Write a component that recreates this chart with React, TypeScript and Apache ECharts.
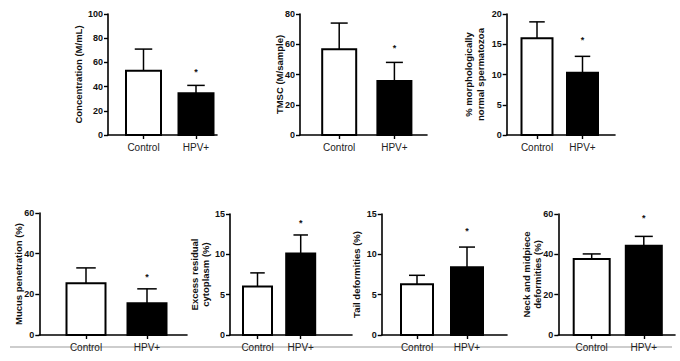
import React, { useEffect, useRef } from "react";
import * as echarts from "echarts";

// ---------- DATA ----------
const categories = ["Control", "HPV+"];

const concentrationMean = [53, 34.5];
const concentrationUpper = [71, 41];
const concentrationStar = 54;

const tmscMean = [56.7, 35.7];
const tmscUpper = [74, 48];
const tmscStar = 59.5;

const morphologyMean = [16, 10.3];
const morphologyUpper = [18.7, 13];
const morphologyStar = 16.1;

const mucusMean = [25.5, 15.6];
const mucusUpper = [33, 22.7];
const mucusStar = 29.6;

const cytoplasmMean = [6, 10.1];
const cytoplasmUpper = [7.7, 12.4];
const cytoplasmStar = 14.2;

const tailMean = [6.3, 8.4];
const tailUpper = [7.4, 10.9];
const tailStar = 13.2;

const neckMean = [37.7, 44.3];
const neckUpper = [40.2, 48.9];
const neckStar = 59.2;

const axisMax = [100, 80, 20, 60, 15, 15, 60];
const axisInterval = [20, 20, 5, 20, 5, 5, 20];

const yTitles = [
  "Concentration (M/mL)",
  "TMSC (M/sample)",
  "% morphologically\nnormal spermatozoa",
  "Mucus penetration (%)",
  "Excess residual\ncytoplasm (%)",
  "Tail deformities (%)",
  "Neck and midpiece\ndeformities (%)",
];

const panelsData = [
  { mean: concentrationMean, upper: concentrationUpper, star: concentrationStar },
  { mean: tmscMean, upper: tmscUpper, star: tmscStar },
  { mean: morphologyMean, upper: morphologyUpper, star: morphologyStar },
  { mean: mucusMean, upper: mucusUpper, star: mucusStar },
  { mean: cytoplasmMean, upper: cytoplasmUpper, star: cytoplasmStar },
  { mean: tailMean, upper: tailUpper, star: tailStar },
  { mean: neckMean, upper: neckUpper, star: neckStar },
];

// ---------- LAYOUT (pixels) ----------
// axisX: y axis line x; xEnd: right end of x axis; top/bottom: plot extents;
// c1/c2: bar centres; barW: bar width; titleX: y title centre x
const layout = [
  { axisX: 108, xEnd: 217, top: 14, bottom: 135, c1: 143.5, c2: 196, barW: 35, titleX: 78 },
  { axisX: 300, xEnd: 427, top: 14, bottom: 135, c1: 339.2, c2: 394.4, barW: 34, titleX: 279 },
  { axisX: 506.7, xEnd: 615, top: 14, bottom: 135, c1: 537, c2: 582.5, barW: 31, titleX: 474.5 },
  { axisX: 39.3, xEnd: 187, top: 213, bottom: 335, c1: 86, c2: 147, barW: 39, titleX: 18 },
  { axisX: 230, xEnd: 352, top: 214, bottom: 335, c1: 257.5, c2: 300.7, barW: 29, titleX: 200 },
  { axisX: 381.7, xEnd: 507, top: 214, bottom: 335, c1: 417, c2: 467, barW: 32, titleX: 356 },
  { axisX: 558.3, xEnd: 675, top: 214, bottom: 335, c1: 591.7, c2: 643.8, barW: 36, titleX: 532 },
];

const FONT = "'Liberation Sans', Arial, Helvetica, sans-serif";

function buildOption() {
  const grid: any[] = [];
  const xAxis: any[] = [];
  const yAxis: any[] = [];
  const series: any[] = [];
  const graphic: any[] = [];

  layout.forEach((L, i) => {
    const D = panelsData[i];
    const frameIdx = i * 2;
    const barIdx = i * 2 + 1;
    const height = L.bottom - L.top;
    const bw = L.c2 - L.c1;

    // frame grid (axes lines + y labels)
    grid.push({ left: L.axisX, top: L.top, width: L.xEnd - L.axisX, height });
    xAxis.push({
      gridIndex: frameIdx,
      type: "value",
      min: 0,
      max: 1,
      axisLine: { show: true, onZero: false, lineStyle: { color: "#000", width: 1.6 } },
      axisTick: { show: false },
      axisLabel: { show: false },
      splitLine: { show: false },
    });
    yAxis.push({
      gridIndex: frameIdx,
      type: "value",
      min: 0,
      max: axisMax[i],
      interval: axisInterval[i],
      axisLine: { show: true, onZero: false, lineStyle: { color: "#000", width: 1.6 } },
      axisTick: { show: true, length: 4, lineStyle: { color: "#000", width: 1.4 } },
      axisLabel: { fontFamily: FONT, fontSize: 9, fontWeight: "bold", color: "#111", margin: 5 },
      splitLine: { show: false },
    });

    // bar grid (categories + bars)
    grid.push({ left: L.c1 - bw / 2, top: L.top, width: bw * 2, height });
    xAxis.push({
      gridIndex: barIdx,
      type: "category",
      data: categories,
      axisLine: { show: false },
      axisTick: { show: true, alignWithLabel: true, length: 4, lineStyle: { color: "#000", width: 1.4 } },
      axisLabel: { fontFamily: FONT, fontSize: 10, color: "#222", margin: 7 },
      splitLine: { show: false },
    });
    yAxis.push({
      gridIndex: barIdx,
      type: "value",
      min: 0,
      max: axisMax[i],
      interval: axisInterval[i],
      show: false,
    });

    const barW = L.barW;
    series.push({
      type: "custom",
      xAxisIndex: barIdx,
      yAxisIndex: barIdx,
      clip: false,
      data: categories.map((c, j) => [j, D.mean[j], D.upper[j]]),
      renderItem: (params: any, api: any) => {
        const idx = api.value(0);
        const base = api.coord([idx, 0]);
        const top = api.coord([idx, api.value(1)]);
        const err = api.coord([idx, api.value(2)]);
        const x = base[0];
        const filled = idx === 1;
        const cap = barW * 0.5;
        return {
          type: "group",
          children: [
            {
              type: "line",
              shape: { x1: x, y1: top[1], x2: x, y2: err[1] },
              style: { stroke: "#000", lineWidth: 1.5 },
            },
            {
              type: "line",
              shape: { x1: x - cap / 2, y1: err[1], x2: x + cap / 2, y2: err[1] },
              style: { stroke: "#000", lineWidth: 1.5 },
            },
            {
              type: "rect",
              shape: { x: x - barW / 2, y: top[1], width: barW, height: base[1] - top[1] },
              style: { fill: filled ? "#000" : "#fff", stroke: "#000", lineWidth: 2 },
            },
          ],
        };
      },
    });
    series.push({
      type: "custom",
      xAxisIndex: barIdx,
      yAxisIndex: barIdx,
      clip: false,
      data: [[1, D.star]],
      renderItem: (params: any, api: any) => {
        const p = api.coord([api.value(0), api.value(1)]);
        return {
          type: "text",
          x: p[0],
          y: p[1] + 2.5,
          style: {
            text: "*",
            fontFamily: FONT,
            fontSize: 9,
            fontWeight: "bold",
            fill: "#111",
            align: "center",
            verticalAlign: "middle",
          },
        };
      },
    });

    // y-axis title
    graphic.push({
      type: "text",
      x: L.titleX,
      y: (L.top + L.bottom) / 2,
      rotation: Math.PI / 2,
      style: {
        text: yTitles[i],
        fontFamily: FONT,
        fontSize: 9.5,
        fontWeight: "bold",
        fill: "#111",
        align: "center",
        verticalAlign: "middle",
        lineHeight: 11.5,
      },
    });
  });

  graphic.push({
    type: "line",
    shape: { x1: 10, y1: 347, x2: 672, y2: 347 },
    style: { stroke: "#bdbdbd", lineWidth: 1.5 },
  });

  return {
    animation: false,
    backgroundColor: "#fff",
    grid,
    xAxis,
    yAxis,
    series,
    graphic,
  };
}

export default function App() {
  const ref = useRef<HTMLDivElement>(null);
  useEffect(() => {
    document.body.style.margin = "0";
    if (!ref.current) return;
    const chart = echarts.init(ref.current, undefined, { renderer: "svg" });
    chart.setOption(buildOption() as any);
    return () => chart.dispose();
  }, []);
  return (
    <div
      ref={ref}
      style={{ width: 680, height: 361, position: "absolute", left: 0, top: 0, background: "#fff" }}
    />
  );
}
